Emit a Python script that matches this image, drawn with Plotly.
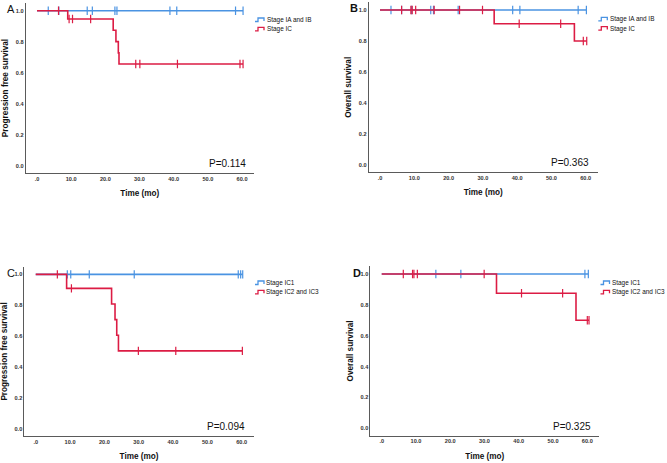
import plotly.graph_objects as go

W, H = 667, 463

# ---------------- data ----------------
ticks_x = [0, 10, 20, 30, 40, 50, 60]
ticks_x_text = [".0", "10.0", "20.0", "30.0", "40.0", "50.0", "60.0"]
ticks_y = [0.0, 0.2, 0.4, 0.6, 0.8, 1.0]
ticks_y_text = ["0.0", "0.2", "0.4", "0.6", "0.8", "1.0"]

panel_labels = ["A", "B", "C", "D"]
y_titles = ["Progression free survival", "Overall survival",
            "Progression free survival", "Overall survival"]
p_values = ["P=0.114", "P=0.363", "P=0.094", "P=0.325"]
legend_names = [["Stage IA and IB", "Stage IC"], ["Stage IA and IB", "Stage IC"],
                ["Stage IC1", "Stage IC2 and IC3"], ["Stage IC1", "Stage IC2 and IC3"]]

# Panel A (PFS, IA/IB vs IC)
A_blue_event_t = []
A_blue_event_s = []
A_blue_cens = [3.3, 6.4, 14.7, 16.2, 22.8, 23.4, 38.9, 40.9, 58.1, 60.3]
A_red_event_t = [9.0, 22.3, 23.1, 23.8, 24.0]
A_red_event_s = [0.947, 0.874, 0.801, 0.728, 0.656]
A_red_cens = [6.3, 9.4, 10.4, 15.7, 28.9, 30.1, 41.1, 59.4, 60.3]

# Panel B (OS, IA/IB vs IC)
B_blue_event_t = []
B_blue_event_s = []
B_blue_cens = [3.2, 6.3, 9.2, 14.8, 15.6, 22.8, 38.7, 40.8, 57.8, 60.2]
B_red_event_t = [33.3, 56.7]
B_red_event_s = [0.912, 0.800]
B_red_cens = [6.3, 9.0, 9.4, 10.4, 15.8, 23.2, 29.9, 40.6, 52.7, 59.3, 60.3]

# Panel C (PFS, IC1 vs IC2/IC3)
C_blue_event_t = []
C_blue_event_s = []
C_blue_cens = [9.2, 10.2, 15.6, 28.7, 59.0, 59.7, 60.3]
C_red_event_t = [9.0, 22.1, 23.1, 23.6, 24.1]
C_red_event_s = [0.909, 0.808, 0.707, 0.606, 0.505]
C_red_cens = [6.3, 10.4, 29.9, 40.8, 60.2]

# Panel D (OS, IC1 vs IC2/IC3)
D_blue_event_t = []
D_blue_event_s = []
D_blue_cens = [15.8, 23.1, 59.3, 60.3]
D_red_event_t = [33.5, 56.7]
D_red_event_s = [0.875, 0.700]
D_red_cens = [6.3, 9.0, 9.4, 10.4, 29.9, 40.8, 52.8, 60.0, 60.5]

panels = [
    [(A_blue_event_t, A_blue_event_s, A_blue_cens), (A_red_event_t, A_red_event_s, A_red_cens)],
    [(B_blue_event_t, B_blue_event_s, B_blue_cens), (B_red_event_t, B_red_event_s, B_red_cens)],
    [(C_blue_event_t, C_blue_event_s, C_blue_cens), (C_red_event_t, C_red_event_s, C_red_cens)],
    [(D_blue_event_t, D_blue_event_s, D_blue_cens), (D_red_event_t, D_red_event_s, D_red_cens)],
]

# ---------------- styling / layout ----------------
BLUE = "#4a93e2"
RED = "#dc1c44"
AXIS = "#5a5a5a"
FONT = "Liberation Sans, Arial, sans-serif"
colors = [BLUE, RED]

# pixel boxes of each plot area: (left, right, top, bottom)
boxes = [(25.7, 254.0, 3.0, 173.0), (368.7, 597.7, 2.3, 172.3),
         (24.4, 253.7, 266.6, 436.3), (370.4, 599.3, 266.3, 435.6)]
label_pos = [(5, 9, "normal"), (348, 8, "bold"), (5, 273, "normal"), (351, 273, "bold")]
# (icon left, first row centre y, text left)
legend_pos = [(255, 20, 266.0), (598.3, 19.3, 608.8), (255, 283, 265.2), (600.5, 283, 610.8)]


def surv_at(t, ev_t, ev_s):
    s = 1.0
    for et, es in zip(ev_t, ev_s):
        if et <= t:
            s = es
    return s


fig = go.Figure()
annotations = []
shapes = []

for i, (pan, box) in enumerate(zip(panels, boxes)):
    sfx = "" if i == 0 else str(i + 1)
    xa, ya = "x" + sfx, "y" + sfx
    for j, (ev_t, ev_s, cens) in enumerate(pan):
        t_end = max(cens + ev_t)
        xs = [0.0] + list(ev_t) + [t_end]
        ys = [1.0] + list(ev_s) + [ev_s[-1] if ev_s else 1.0]
        fig.add_trace(go.Scatter(
            x=xs, y=ys, mode="lines", line=dict(color=colors[j], width=1.6, shape="hv"),
            name=legend_names[i][j], showlegend=False, xaxis=xa, yaxis=ya, hoverinfo="skip"))
        fig.add_trace(go.Scatter(
            x=cens, y=[surv_at(c, ev_t, ev_s) for c in cens], mode="markers",
            marker=dict(symbol="line-ns", size=6, line=dict(color=colors[j], width=1.2)),
            showlegend=False, xaxis=xa, yaxis=ya, hoverinfo="skip"))

    l, r, t, b = box
    common = dict(showline=True, linecolor=AXIS, linewidth=1, showgrid=False,
                  zeroline=False, ticks="", automargin=False,
                  tickfont=dict(family=FONT, size=5.6, color="#333", weight="bold"))
    fig.layout["xaxis" + sfx] = dict(
        domain=[l / W, r / W], range=[-3.3, 63.5], anchor=ya,
        tickvals=ticks_x, ticktext=ticks_x_text,
        title=dict(text="<b>Time (mo)</b>", standoff=9,
                   font=dict(family=FONT, size=8.2, color="#111")), **common)
    fig.layout["yaxis" + sfx] = dict(
        domain=[1 - b / H, 1 - t / H], range=[-0.047, 1.05], anchor=xa,
        tickvals=ticks_y, ticktext=ticks_y_text,
        title=dict(text="<b>" + y_titles[i] + "</b>", standoff=5,
                   font=dict(family=FONT, size=8.2, color="#111")), **common)

    # panel letter
    lx, ly, wt = label_pos[i]
    annotations.append(dict(text=panel_labels[i], x=lx / W, y=1 - ly / H, xref="paper", yref="paper",
                            xanchor="left", yanchor="middle", showarrow=False,
                            font=dict(family=FONT, size=11, color="#111", weight=wt)))
    # p value
    annotations.append(dict(text=p_values[i], x=61.6, y=0.015, xref=xa, yref=ya,
                            xanchor="right", yanchor="middle", showarrow=False,
                            font=dict(family=FONT, size=10, color="#111")))
    # legend (SPSS-style step icons)
    gx, gy, tx = legend_pos[i]
    for j in range(2):
        cy = gy + j * 9.3
        pts = [(gx, cy + 1.5), (gx + 3, cy + 1.5), (gx + 3, cy - 2), (gx + 9, cy - 2), (gx + 9, cy + 1)]
        path = "M " + " L ".join(f"{px / W:.5f},{1 - py / H:.5f}" for px, py in pts)
        shapes.append(dict(type="path", path=path, xref="paper", yref="paper",
                           line=dict(color=colors[j], width=1.3)))
        annotations.append(dict(text=legend_names[i][j], x=tx / W, y=1 - cy / H,
                                xref="paper", yref="paper", xanchor="left", yanchor="middle",
                                showarrow=False, borderpad=0,
                                font=dict(family=FONT, size=6.4, color="#111")))

fig.update_layout(
    width=W, height=H, margin=dict(l=0, r=0, t=0, b=0),
    paper_bgcolor="white", plot_bgcolor="white", showlegend=False,
    annotations=annotations, shapes=shapes,
    font=dict(family=FONT),
)

fig.write_html("out.html", config={"displayModeBar": False},
               post_script="document.body.style.margin='0';document.body.style.overflow='hidden';")
